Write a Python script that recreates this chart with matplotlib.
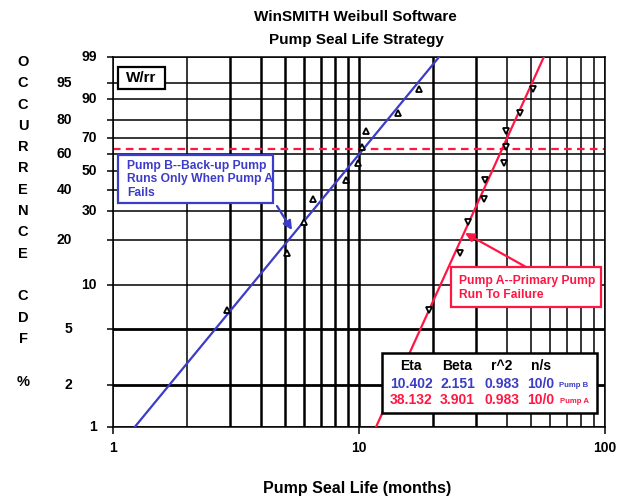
#Weibull probability plot - pump seal life
import numpy as np
import matplotlib
matplotlib.use("Agg")
import matplotlib.pyplot as plt
from matplotlib.patches import Rectangle

plt.rcParams['font.family'] = ['Liberation Sans', 'DejaVu Sans']
plt.rcParams['font.weight'] = 'bold'

# data
pump_b_life = [2.9, 5.1, 5.95, 6.5, 8.85, 9.9, 10.25, 10.7, 14.4, 17.6]
pump_a_life = [19.2, 25.8, 27.8, 32.3, 32.5, 38.9, 39.6, 39.6, 45.3, 50.8]
rank_cdf = [6.7, 16.3, 26.0, 35.6, 45.2, 54.8, 64.4, 74.0, 83.7, 93.3]

pump_b_eta, pump_b_beta = 10.402, 2.151
pump_a_eta, pump_a_beta = 38.132, 3.901
r2_values = ["0.983", "0.983"]
ns_values = ["10/0", "10/0"]
char_life_cdf = 63.2

y_ticks = [1, 2, 5, 10, 20, 30, 40, 50, 60, 70, 80, 90, 95, 99]
y_inner = [1, 10, 30, 50, 70, 90, 99]
x_ticks = [1, 10, 100]
x_grid = [1, 2, 3, 4, 5, 6, 7, 8, 9, 10, 20, 30, 40, 50, 60, 70, 80, 90, 100]

BLUE = '#3c3cc8'
RED = '#ff1744'
W, H = 623, 499


def fx(px):
    return px / W


def fy(py):
    return 1 - py / H


def weib_fwd(p):
    p = np.clip(np.asarray(p, dtype=float), 1e-6, 100 - 1e-6) / 100
    return np.log(-np.log(1 - p))


def weib_inv(y):
    return 100 * (1 - np.exp(-np.exp(np.asarray(y, dtype=float))))


def weib_line(eta, beta, cdf):
    cdf = np.asarray(cdf, dtype=float)
    return eta * (-np.log(1 - cdf / 100)) ** (1 / beta)


fig = plt.figure(figsize=(W / 100, H / 100), dpi=100)
ax = fig.add_axes([fx(113), fy(427), 492 / W, 370 / H])
ax.set_xscale('log')
ax.set_yscale('function', functions=(weib_fwd, weib_inv))
ax.set_xlim(1, 100)
ax.set_ylim(1, 99)

# grid
for v in x_grid:
    lw = 1.8 if (3 <= v <= 10 or v in (20, 30)) else 1.1
    ax.axvline(v, color='black', lw=lw, zorder=1)
for v in y_ticks:
    lw = 2.0 if v in (2, 5) else 1.1
    ax.axhline(v, color='black', lw=lw, zorder=1)

ax.axhline(char_life_cdf, color=RED, lw=1.6, ls=(0, (3.4, 2.4)), zorder=2)

# fit lines
ends = [1, 99]
ax.plot(weib_line(pump_b_eta, pump_b_beta, ends), ends, color=BLUE, lw=1.6, zorder=3)
ax.plot(weib_line(pump_a_eta, pump_a_beta, ends), ends, color=RED, lw=1.6, zorder=3)

# points
ax.plot(pump_b_life, rank_cdf, ls='none', marker='^', ms=5, mfc='white',
        mec='black', mew=1.3, zorder=4)
ax.plot(pump_a_life, rank_cdf, ls='none', marker='v', ms=5, mfc='white',
        mec='black', mew=1.3, zorder=4)

for s in ax.spines.values():
    s.set_linewidth(1.1)

ax.set_xticks(x_ticks)
ax.set_xticklabels([str(v) for v in x_ticks], fontsize=10, fontweight='bold')
ax.xaxis.set_minor_locator(matplotlib.ticker.NullLocator())
ax.tick_params(axis='x', length=5, width=1.1, pad=5)

ax.set_yticks(y_ticks)
ax.set_yticklabels([])
ax.yaxis.set_minor_locator(matplotlib.ticker.NullLocator())
ax.tick_params(axis='y', length=4.3, width=1.1)
for v in y_ticks:
    xpos = -0.0325 if v in y_inner else -0.0833
    ax.text(xpos, v, str(v), transform=ax.get_yaxis_transform(), ha='right',
            va='center', fontsize=10, fontweight='bold')

# titles
fig.text(fx(355), fy(17), "WinSMITH Weibull Software", ha='center', va='center',
         fontsize=11, fontweight='bold')
fig.text(fx(356), fy(40), "Pump Seal Life Strategy", ha='center', va='center',
         fontsize=11, fontweight='bold')
fig.text(fx(357), fy(489), "Pump Seal Life (months)", ha='center', va='center',
         fontsize=11.5, fontweight='bold')

for i, ch in enumerate("OCCURRENCE CDF %"):
    if ch != ' ':
        fig.text(fx(23), fy(62 + i * 21.3), ch, ha='center', va='center',
                 fontsize=10.5, fontweight='bold')


def box(x0, y0, x1, y1, color, lw=1.6):
    fig.add_artist(Rectangle((fx(x0), fy(y1)), fx(x1) - fx(x0), fy(y0) - fy(y1),
                             transform=fig.transFigure, facecolor='white',
                             edgecolor=color, lw=lw, zorder=5))


# W/rr tag
box(118, 67, 165, 89, 'black')
fig.text(fx(141.5), fy(78.5), "W/rr", ha='center', va='center', fontsize=11,
         fontweight='bold', zorder=6)

# Pump B note
box(118, 155, 273, 203, BLUE)
for j, line in enumerate(["Pump B--Back-up Pump", "Runs Only When Pump A", "Fails"]):
    fig.text(fx(127), fy(165.5 + j * 13.8), line, ha='left', va='center',
             fontsize=8.7, fontweight='bold', color=BLUE, zorder=6)
ax.annotate('', xy=(fx(292), fy(230)), xycoords='figure fraction',
            xytext=(fx(277), fy(206)), textcoords='figure fraction',
            arrowprops=dict(arrowstyle='-|>', color=BLUE, lw=1.6,
                            mutation_scale=13, shrinkA=0, shrinkB=0))

# Pump A note
box(451, 267, 601, 307, RED)
for j, line in enumerate(["Pump A--Primary Pump", "Run To Failure"]):
    fig.text(fx(459), fy(281 + j * 14), line, ha='left', va='center',
             fontsize=8.7, fontweight='bold', color=RED, zorder=6)
ax.annotate('', xy=(fx(465), fy(233)), xycoords='figure fraction',
            xytext=(fx(526), fy(267)), textcoords='figure fraction',
            arrowprops=dict(arrowstyle='-|>', color=RED, lw=1.6,
                            mutation_scale=13, shrinkA=0, shrinkB=0))

# parameter table
box(382, 353, 597, 413, 'black', lw=1.8)
col_x = [411, 457.5, 502, 541]
for cx, head in zip(col_x, ["Eta", "Beta", "r^2", "n/s"]):
    fig.text(fx(cx), fy(366), head, ha='center', va='center', fontsize=10,
             fontweight='bold', zorder=6)
rows = [
    (BLUE, pump_b_eta, pump_b_beta, r2_values[0], ns_values[0], "Pump B", 384),
    (RED, pump_a_eta, pump_a_beta, r2_values[1], ns_values[1], "Pump A", 400),
]
for color, eta, beta, r2, ns, name, ry in rows:
    vals = [f"{eta:.3f}", f"{beta:.3f}", r2, ns]
    for cx, v in zip(col_x, vals):
        fig.text(fx(cx), fy(ry), v, ha='center', va='center', fontsize=10,
                 fontweight='bold', color=color, zorder=6)
    fig.text(fx(574), fy(ry + 1.5), name, ha='center', va='center', fontsize=5.6,
             fontweight='bold', color=color, zorder=6)

fig.savefig("out.png", dpi=100)
